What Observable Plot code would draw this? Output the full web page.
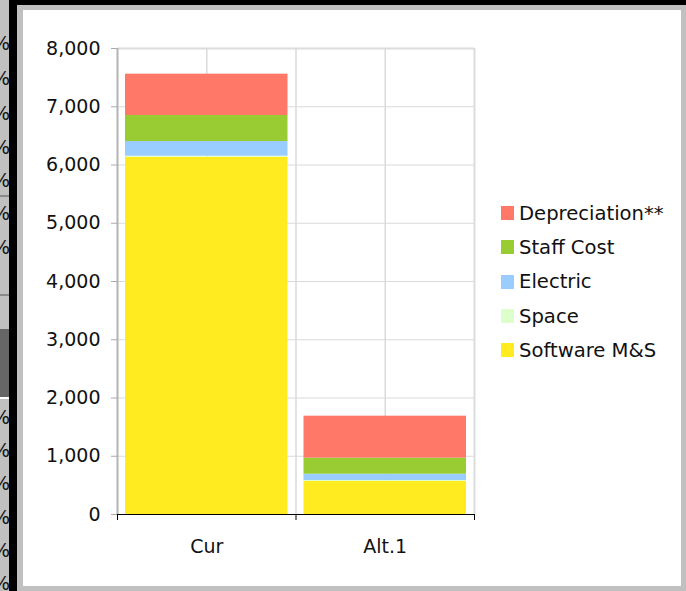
<!DOCTYPE html>
<html>
<head>
<meta charset="utf-8">
<script src="https://cdn.jsdelivr.net/npm/d3@7"></script>
<script src="https://cdn.jsdelivr.net/npm/@observablehq/plot@0.6"></script>
<style>
  html, body { margin: 0; padding: 0; }
  body { width: 686px; height: 591px; position: relative; overflow: hidden; background: #c0c0c0; font-family: "DejaVu Sans", Verdana, sans-serif; }
  .abs { position: absolute; }
  #strip { left: 0; top: 0; width: 9px; height: 591px; overflow: hidden; }
  #strip span { position: absolute; right: -1px; font-size: 19px; line-height: 19px; color: #111; }
  #legend { left: 501px; top: 196px; font-size: 19.6px; color: #111; }
  .row { height: 34.3px; display: flex; align-items: center; white-space: nowrap; }
  .sw { width: 13px; height: 14px; margin-right: 5px; }
  #chart { left: 0; top: 0; }
</style>
</head>
<body>
<div class="abs" style="left:9px;top:0;width:8px;height:591px;background:#000"></div>
<div class="abs" style="left:9px;top:0;width:677px;height:5px;background:#000"></div>
<div class="abs" style="left:23px;top:10px;width:658px;height:576px;background:#fff"></div>
<div id="strip" class="abs">
  <div class="abs" style="left:0;top:195px;width:9px;height:2px;background:#8a8a8a"></div>
  <div class="abs" style="left:0;top:294px;width:9px;height:2px;background:#8a8a8a"></div>
  <div class="abs" style="left:0;top:329px;width:9px;height:68px;background:#666"></div>
  <div class="abs" style="left:0;top:397px;width:9px;height:2px;background:#fff"></div>
</div>
<div id="chart" class="abs"></div>
<div id="legend" class="abs"></div>
<script>
const categories = ["Cur", "Alt.1"];
const seriesNames = ["Software M&S", "Space", "Electric", "Staff Cost", "Depreciation**"]; // bottom to top
const softwareMS = [6134, 567];
const space = [17, 17];
const electric = [252, 108];
const staffCost = [447, 275];
const depreciation = [709, 721];
const seriesColors = ["#ffeb1f", "#ddffcc", "#99ccff", "#99cc33", "#ff7868"];
const yTicks = [0, 1000, 2000, 3000, 4000, 5000, 6000, 7000, 8000];
const stripRows = [43, 78, 113, 147, 180, 213, 247, 417, 450, 483, 517, 550, 583];

const seriesValues = [softwareMS, space, electric, staffCost, depreciation];
const rows = [];
seriesNames.forEach((s, si) => {
  categories.forEach((c, ci) => {
    rows.push({category: c, pos: ci, series: s, value: seriesValues[si][ci]});
  });
});

const catPositions = categories.map((c, i) => i + 0.5);
const boundaries = d3.range(categories.length + 1);

const chart = Plot.plot({
  width: 686,
  height: 591,
  marginLeft: 117,
  marginRight: 212,
  marginTop: 48,
  marginBottom: 77,
  style: {background: "transparent", fontFamily: "DejaVu Sans, Verdana, sans-serif", fontSize: "19px", color: "#111"},
  x: {domain: [0, categories.length], axis: null},
  y: {domain: [0, 8000], axis: null},
  color: {domain: seriesNames, range: seriesColors},
  marks: [
    Plot.ruleY(yTicks.filter(d => d > 0 && d < 8000), {stroke: "#dadada", strokeWidth: 1}),
    Plot.ruleY([8000], {stroke: "#dcdcdc", strokeWidth: 2}),
    Plot.ruleX(catPositions.concat([1]), {stroke: "#dadada", strokeWidth: 1.5}),
    Plot.ruleX([categories.length], {stroke: "#dcdcdc", strokeWidth: 2}),
    Plot.rect(rows, Plot.stackY({
      x1: "pos",
      x2: d => d.pos + 1,
      y: "value",
      fill: "series",
      insetLeft: 8,
      insetRight: 8
    })),
    Plot.ruleX([0], {stroke: "#b4b4b4", strokeWidth: 2}),
    Plot.ruleY([0], {stroke: "#000", strokeWidth: 1}),
    Plot.axisY({ticks: yTicks, tickSize: 6, tickPadding: 11, stroke: "#aaa", fill: "#111", tickFormat: d3.format(","), label: null, fontSize: 19}),
    Plot.axisX({ticks: boundaries, tickSize: 6, stroke: "#000", tickFormat: () => "", label: null}),
    Plot.axisX({ticks: catPositions, tickSize: 0, tickPadding: 25, fill: "#111", tickFormat: d => categories[Math.floor(d)], label: null, fontSize: 19})
  ]
});
document.getElementById("chart").appendChild(chart);

const legend = document.getElementById("legend");
seriesNames.slice().reverse().forEach(s => {
  const i = seriesNames.indexOf(s);
  const row = document.createElement("div");
  row.className = "row";
  const sw = document.createElement("div");
  sw.className = "sw";
  sw.style.background = seriesColors[i];
  const t = document.createElement("span");
  t.textContent = s;
  row.appendChild(sw);
  row.appendChild(t);
  legend.appendChild(row);
});

const strip = document.getElementById("strip");
stripRows.forEach(y => {
  const sp = document.createElement("span");
  sp.textContent = "%";
  sp.style.top = (y - 9) + "px";
  strip.appendChild(sp);
});
</script>
</body>
</html>
